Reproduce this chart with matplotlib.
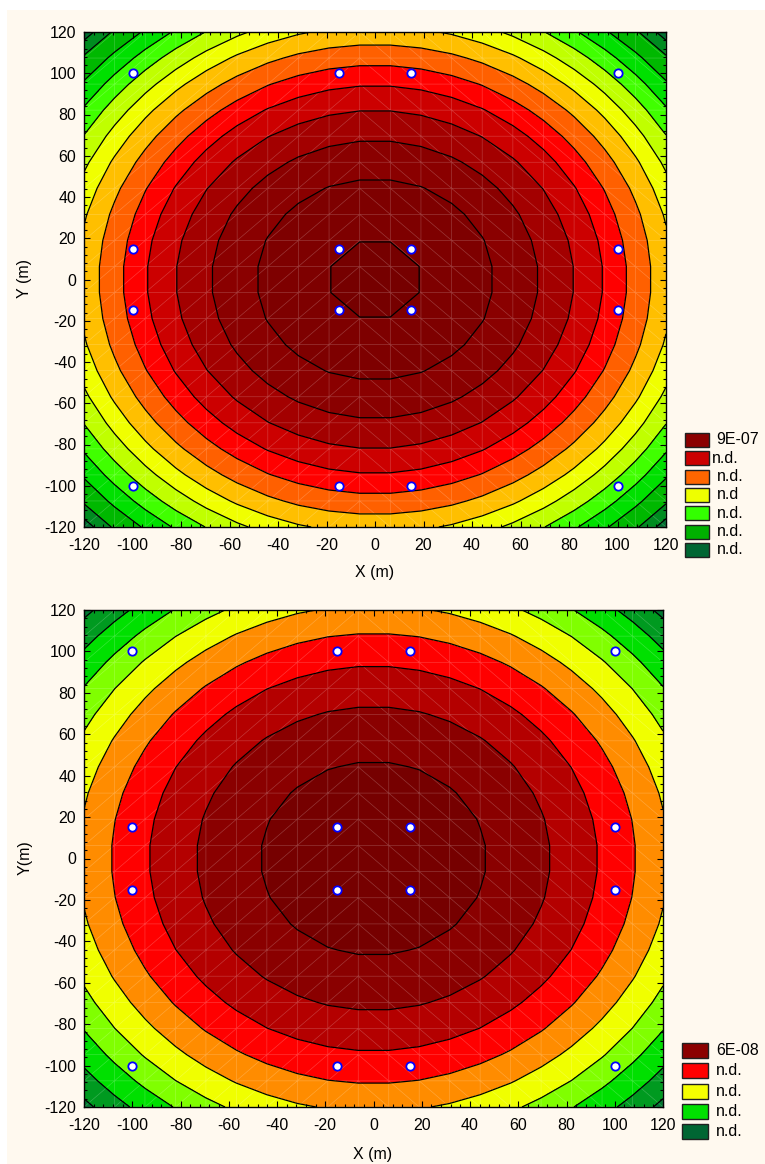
import numpy as np
import matplotlib
matplotlib.use('Agg')
import matplotlib.pyplot as plt
import matplotlib.tri as mtri
from matplotlib.patches import Rectangle
from matplotlib.ticker import MultipleLocator

plt.rcParams['font.family'] = ['Liberation Sans', 'DejaVu Sans']
plt.rcParams['axes.unicode_minus'] = False

# sampling points (m)
sample_x = [-100, -15, 15, 100]
sample_y = [100, 15, -15, -100]

# contour radii (m), from the centre outwards
top_radii = [19.5, 49, 67.5, 82, 94, 104, 114, 123, 131, 139, 146.5, 154, 162, 167]
bottom_radii = [47, 73.5, 93, 108.7, 122.5, 135, 146, 157, 167]

# band colours, centre -> corner
top_colors = ['#760000', '#7e0000', '#8a0000', '#a30000', '#cc0000', '#ff0000',
              '#ff6000', '#ffbf00', '#f0ff00', '#c0ff00', '#40ff00', '#00e000',
              '#00b800', '#008c20', '#007030']
bottom_colors = ['#760000', '#8a0000', '#b40000', '#ff0000', '#ff8c00',
                 '#f0ff00', '#80ff00', '#00e000', '#009a20', '#007a30']

# legends
top_legend_labels = ['9E-07', 'n.d.', 'n.d.', 'n.d', 'n.d.', 'n.d.', 'n.d.']
top_legend_colors = ['#8b0000', '#cc0000', '#ff6600', '#eeff00', '#33ff00', '#00b000', '#006633']
bottom_legend_labels = ['6E-08', 'n.d.', 'n.d.', 'n.d.', 'n.d.']
bottom_legend_colors = ['#8b0000', '#ff0000', '#f5ff00', '#00e000', '#006633']

W, H = 765, 1164
fig = plt.figure(figsize=(W / 100, H / 100), dpi=100, facecolor='white')
cream = '#fff9ef'
fig.add_artist(Rectangle((7 / W, 0), 1, 1 - 10 / H, transform=fig.transFigure,
                         facecolor=cream, edgecolor='none', zorder=-10))


def px_box(x0, y0, x1, y1):
    return [x0 / W, 1 - y1 / H, (x1 - x0) / W, (y1 - y0) / H]


# statistica-like mesh: 20x20 nodes, diagonals "/" on the left half, "\" on the right
n = 20
nodes = np.linspace(-120, 120, n)
GX, GY = np.meshgrid(nodes, nodes)
tris = []
for j in range(n - 1):
    for i in range(n - 1):
        a = j * n + i
        b = a + 1
        c = a + n + 1
        d = a + n
        if (nodes[i] + nodes[i + 1]) / 2 <= 0:
            tris += [[a, b, c], [a, c, d]]
        else:
            tris += [[a, b, d], [b, c, d]]
tri = mtri.Triangulation(GX.ravel(), GY.ravel(), np.array(tris))
dist2 = (GX ** 2 + GY ** 2).ravel()


def draw_panel(rect, radii, colors):
    ax = fig.add_axes(rect)
    lv = np.array(radii) ** 2
    levels = np.concatenate([[-1], lv, [dist2.max() + 1]])
    ax.tricontourf(tri, dist2, levels=levels, colors=colors)
    ax.triplot(tri, color='white', lw=0.5, alpha=0.22)
    ax.tricontour(tri, dist2, levels=lv, colors='k', linewidths=0.9)
    xs, ys = np.meshgrid(sample_x, sample_y)
    ax.plot(xs.ravel(), ys.ravel(), 'o', mfc='white', mec='#0000ff', ms=6, mew=1.3,
            ls='none', zorder=5)
    ax.set_xlim(-120, 120)
    ax.set_ylim(-120, 120)
    ax.set_xticks(range(-120, 121, 20))
    ax.set_yticks(range(-120, 121, 20))
    ax.xaxis.set_minor_locator(MultipleLocator(4))
    ax.yaxis.set_minor_locator(MultipleLocator(4))
    ax.tick_params(which='both', direction='in', top=True, right=True, labelsize=11.5)
    ax.tick_params(which='major', length=4, width=0.8)
    ax.tick_params(which='minor', length=2.5, width=0.8)
    ax.tick_params(axis='y', pad=5.5)
    ax.tick_params(axis='x', pad=8)
    for s in ax.spines.values():
        s.set_linewidth(1)
    ax.set_facecolor(cream)
    return ax


draw_panel(px_box(84, 32, 666, 527), top_radii, top_colors)
draw_panel(px_box(84, 610, 663, 1107), bottom_radii, bottom_colors)

fig.text(25 / W, 1 - 279 / H, 'Y (m)', rotation=90, ha='center', va='center', fontsize=11.5)
fig.text(375 / W, 1 - 573 / H, 'X (m)', ha='center', va='center', fontsize=11.5)
fig.text(25 / W, 1 - 858 / H, 'Y(m)', rotation=90, ha='center', va='center', fontsize=11.5)
fig.text(373 / W, 1 - 1155 / H, 'X (m)', ha='center', va='center', fontsize=11.5)


def draw_legend(x0, y0, bw, bh, step, labels, colors, text_x):
    for k, (lab, col) in enumerate(zip(labels, colors)):
        top = y0 + k * step
        fig.add_artist(Rectangle((x0 / W, 1 - (top + bh) / H), bw / W, bh / H,
                                 transform=fig.transFigure, facecolor=col,
                                 edgecolor='#202020', lw=1))
        fig.text(text_x[k] / W, 1 - (top + bh / 2) / H, lab, ha='left', va='center',
                 fontsize=11.5)


draw_legend(685, 433, 24, 14, 18.3, top_legend_labels, top_legend_colors,
            [716, 711.5, 716.5, 716.5, 716.5, 716.5, 716.5])
draw_legend(682, 1043, 26, 15, 20.3, bottom_legend_labels, bottom_legend_colors,
            [716] * 5)

fig.savefig('out.png', dpi=100, facecolor=fig.get_facecolor())
